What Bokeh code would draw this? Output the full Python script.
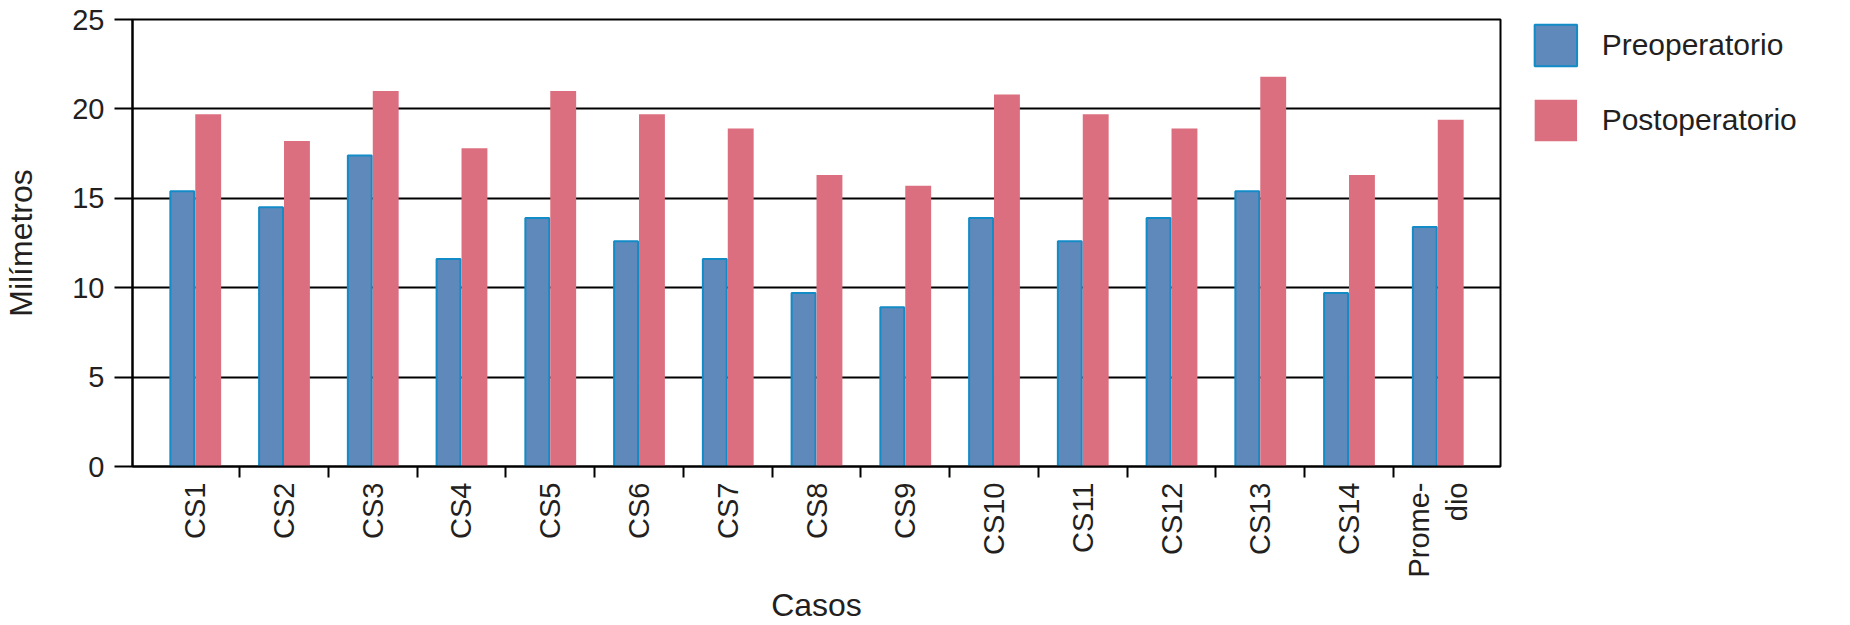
import math
from bokeh.plotting import figure
from bokeh.layouts import row
from bokeh.models import (ColumnDataSource, Range1d, FixedTicker, Legend, LegendItem)
from bokeh.embed import file_html
from bokeh.resources import INLINE

# ---- data ----
categories = ["CS1", "CS2", "CS3", "CS4", "CS5", "CS6", "CS7", "CS8", "CS9",
              "CS10", "CS11", "CS12", "CS13", "CS14", "Prome-\ndio"]
preoperatorio = [15.4, 14.5, 17.4, 11.6, 13.9, 12.6, 11.6, 9.7, 8.9,
                 13.9, 12.6, 13.9, 15.4, 9.7, 13.4]
postoperatorio = [19.7, 18.2, 21.0, 17.8, 21.0, 19.7, 18.9, 16.3, 15.7,
                  20.8, 19.7, 18.9, 21.8, 16.3, 19.4]
y_ticks = [0, 5, 10, 15, 20, 25]
series_names = ["Preoperatorio", "Postoperatorio"]

FONT = "Liberation Sans"
TEXT = "#231f20"
BLUE_FILL = "#5f88bb"
BLUE_LINE = "#128bc6"
PINK = "#dc6f7f"

n = len(categories)
idx = list(range(n))
dodge = 0.146

src_pre = ColumnDataSource(dict(x=[i - dodge for i in idx], top=preoperatorio))
src_post = ColumnDataSource(dict(x=[i + dodge for i in idx], top=postoperatorio))

p = figure(width=1502, height=625,
           x_range=Range1d(-0.707, n - 1 + 0.707), y_range=Range1d(0, 25),
           output_backend="svg", toolbar_location=None,
           min_border_left=126, min_border_top=19, min_border_right=2,
           min_border_bottom=154)
p.background_fill_color = "white"
p.border_fill_color = "white"
p.outline_line_color = "black"
p.outline_line_width = 2

bar_pre = dict(fill_color=BLUE_FILL, line_color=BLUE_LINE, line_width=2)
bar_post = dict(fill_color=PINK, line_color=None)

p.vbar(x="x", top="top", bottom=0, width=0.269, source=src_pre, **bar_pre)
p.vbar(x="x", top="top", bottom=0, width=0.2917, source=src_post, **bar_post)

# grid
p.xgrid.grid_line_color = None
p.ygrid.grid_line_color = "black"
p.ygrid.grid_line_width = 2
p.ygrid.ticker = FixedTicker(ticks=y_ticks)

# y axis
ya = p.yaxis[0]
ya.ticker = FixedTicker(ticks=y_ticks)
ya.axis_line_width = 2
ya.major_tick_line_width = 2
ya.major_tick_out = 18
ya.major_tick_in = 0
ya.minor_tick_line_color = None
ya.major_label_standoff = 10
ya.major_label_text_font = FONT
ya.major_label_text_font_size = "29px"
ya.major_label_text_color = TEXT
ya.axis_label = "Milímetros"
ya.axis_label_text_font = FONT
ya.axis_label_text_font_size = "32px"
ya.axis_label_text_font_style = "normal"
ya.axis_label_text_color = TEXT
ya.axis_label_standoff = 30

# x axis
xa = p.xaxis[0]
xa.ticker = FixedTicker(ticks=idx, minor_ticks=[i + 0.5 for i in idx[:-1]])
xa.major_label_overrides = {i: c for i, c in zip(idx, categories)}
xa.axis_line_width = 2
xa.major_tick_line_color = None
xa.major_tick_out = 0
xa.major_tick_in = 0
xa.minor_tick_line_color = "black"
xa.minor_tick_line_width = 2
xa.minor_tick_out = 11
xa.minor_tick_in = 0
xa.major_label_orientation = math.pi / 2
xa.major_label_standoff = 5
xa.major_label_text_font = FONT
xa.major_label_text_font_size = "29px"
xa.major_label_text_color = TEXT
xa.axis_label = "Casos"
xa.axis_label_text_font = FONT
xa.axis_label_text_font_size = "32px"
xa.axis_label_text_font_style = "normal"
xa.axis_label_text_color = TEXT
xa.axis_label_standoff = 6

# ---- legend panel (separate figure to the right of the chart) ----
# its ranges lie outside the data, so the key renderers only feed the legend
lg = figure(width=348, height=625, x_range=Range1d(1000, 1001),
            y_range=Range1d(1000, 1001),
            output_backend="svg", toolbar_location=None,
            x_axis_location=None, y_axis_location=None,
            min_border_left=326, min_border_right=0,
            min_border_top=1, min_border_bottom=0)
lg.outline_line_color = None
lg.grid.visible = False
lg.background_fill_color = "white"
lg.border_fill_color = "white"
key_pre = lg.vbar(x="x", top="top", bottom=0, width=0.269, source=src_pre, **bar_pre)
key_post = lg.vbar(x="x", top="top", bottom=0, width=0.2917, source=src_post, **bar_post)

legend = Legend(items=[LegendItem(label=series_names[0], renderers=[key_pre]),
                       LegendItem(label=series_names[1], renderers=[key_post])],
                location="top_right", glyph_width=53, glyph_height=52,
                label_height=52, label_standoff=20, spacing=23, padding=0,
                margin=0, border_line_color=None, background_fill_alpha=0,
                label_text_font=FONT, label_text_font_size="30px",
                label_text_color=TEXT)
lg.add_layout(legend, "left")

layout = row(p, lg)
open("out.html", "w").write(file_html(layout, INLINE))
